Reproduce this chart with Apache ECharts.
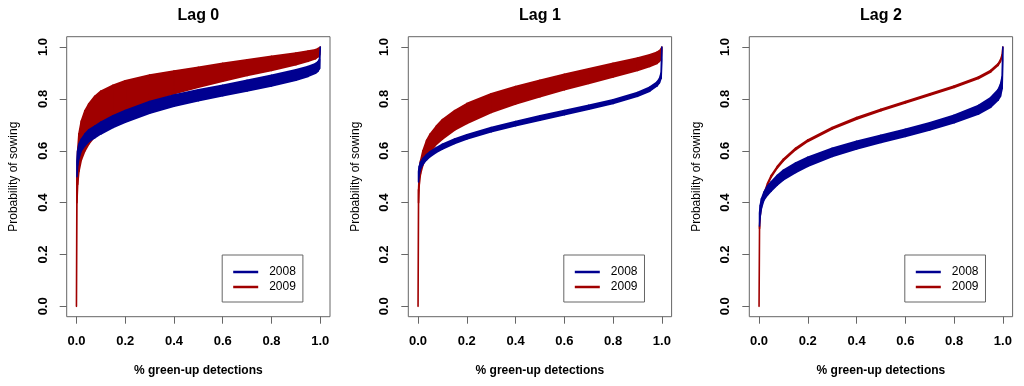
<!DOCTYPE html>
<html><head><meta charset="utf-8">
<script src="https://cdn.jsdelivr.net/npm/echarts@6/dist/echarts.min.js"></script>
<style>html,body{margin:0;padding:0;background:#fff}#c{width:1024px;height:386px}</style>
</head><body><div id="c"></div>
<script>
// shared x positions (% green-up detections)
const xs = [0, 0.002, 0.005, 0.01, 0.02, 0.035, 0.05, 0.075, 0.1, 0.15, 0.2, 0.3, 0.4, 0.5, 0.6, 0.7, 0.8, 0.9, 0.95, 0.98, 0.99, 0.997, 1.0];
const ticks = [0, 0.2, 0.4, 0.6, 0.8, 1.0];
const panelTitles = ['Lag 0', 'Lag 1', 'Lag 2'];
const years = ['2008', '2009'];

// Lag 0
const lag0_2009_hi = [0, 0.50, 0.60, 0.665, 0.715, 0.755, 0.78, 0.81, 0.83, 0.853, 0.87, 0.892, 0.908, 0.922, 0.937, 0.951, 0.964, 0.977, 0.985, 0.99, 0.994, 0.998, 1.0];
const lag0_2009_lo = [0, 0.40, 0.47, 0.52, 0.565, 0.60, 0.625, 0.655, 0.68, 0.715, 0.745, 0.79, 0.82, 0.845, 0.868, 0.89, 0.91, 0.932, 0.945, 0.955, 0.962, 0.97, 1.0];
const lag0_2008_hi = [null, 0.56, 0.60, 0.625, 0.645, 0.665, 0.68, 0.695, 0.71, 0.735, 0.755, 0.79, 0.815, 0.835, 0.853, 0.872, 0.891, 0.912, 0.925, 0.936, 0.943, 0.953, 1.0];
const lag0_2008_lo = [null, 0.50, 0.545, 0.57, 0.60, 0.62, 0.635, 0.65, 0.665, 0.69, 0.71, 0.745, 0.772, 0.793, 0.812, 0.831, 0.85, 0.872, 0.887, 0.899, 0.906, 0.917, 1.0];
// Lag 1
const lag1_2009_hi = [0, 0.45, 0.52, 0.56, 0.60, 0.64, 0.665, 0.695, 0.72, 0.755, 0.782, 0.82, 0.848, 0.872, 0.895, 0.916, 0.937, 0.958, 0.97, 0.98, 0.986, 0.993, 1.0];
const lag1_2009_lo = [0, 0.40, 0.47, 0.51, 0.545, 0.575, 0.595, 0.625, 0.645, 0.68, 0.705, 0.748, 0.78, 0.808, 0.835, 0.86, 0.885, 0.91, 0.925, 0.937, 0.945, 0.955, 0.99];
const lag1_2008_hi = [null, 0.52, 0.54, 0.555, 0.57, 0.585, 0.597, 0.612, 0.625, 0.645, 0.662, 0.69, 0.713, 0.735, 0.755, 0.775, 0.797, 0.825, 0.845, 0.865, 0.878, 0.90, 1.0];
const lag1_2008_lo = [null, 0.48, 0.51, 0.53, 0.548, 0.565, 0.578, 0.594, 0.607, 0.628, 0.645, 0.673, 0.697, 0.718, 0.739, 0.76, 0.782, 0.81, 0.83, 0.85, 0.862, 0.88, 0.95];
// Lag 2
const lag2_2009_hi = [0, 0.31, 0.36, 0.395, 0.435, 0.475, 0.505, 0.54, 0.568, 0.61, 0.642, 0.69, 0.728, 0.76, 0.79, 0.82, 0.85, 0.885, 0.91, 0.935, 0.95, 0.97, 1.0];
const lag2_2009_lo = [0, 0.30, 0.354, 0.389, 0.429, 0.469, 0.499, 0.534, 0.562, 0.604, 0.636, 0.684, 0.722, 0.754, 0.784, 0.814, 0.844, 0.879, 0.904, 0.929, 0.944, 0.964, 1.0];
const lag2_2008_hi = [null, 0.36, 0.39, 0.415, 0.44, 0.465, 0.48, 0.505, 0.525, 0.553, 0.575, 0.61, 0.637, 0.66, 0.683, 0.708, 0.737, 0.775, 0.805, 0.835, 0.855, 0.885, 1.0];
const lag2_2008_lo = [null, 0.31, 0.35, 0.38, 0.41, 0.43, 0.445, 0.468, 0.488, 0.516, 0.54, 0.578, 0.607, 0.632, 0.655, 0.68, 0.708, 0.742, 0.768, 0.795, 0.81, 0.84, 0.95];

const panels = [
  {b08: [lag0_2008_lo, lag0_2008_hi], b09: [lag0_2009_lo, lag0_2009_hi]},
  {b08: [lag1_2008_lo, lag1_2008_hi], b09: [lag1_2009_lo, lag1_2009_hi]},
  {b08: [lag2_2008_lo, lag2_2008_hi], b09: [lag2_2009_lo, lag2_2009_hi]}
];
const COL = {'2008': '#000090', '2009': '#A00000'};
const lefts = [66.7, 408.3, 749.3];
const GT = 36.7, GW = 263.3, GH = 280;
const FONT = '"Liberation Sans", Arial, sans-serif';

const grid = [], xAxis = [], yAxis = [], title = [], legend = [], series = [];
lefts.forEach((L, p) => {
  grid.push({left: L, top: GT, width: GW, height: GH, show: true, borderColor: '#666', borderWidth: 1, backgroundColor: 'transparent'});
  xAxis.push({type: 'value', gridIndex: p, min: -0.04, max: 1.04,
    name: '% green-up detections', nameLocation: 'middle', nameGap: 48,
    nameTextStyle: {fontFamily: FONT, fontSize: 12, fontWeight: 'bold', color: '#000'},
    axisLine: {show: false, onZero: false}, splitLine: {show: false},
    axisTick: {show: true, length: 7, customValues: ticks, lineStyle: {color: '#666'}},
    axisLabel: {customValues: ticks, margin: 18, fontFamily: FONT, fontSize: 13, fontWeight: 'bold', color: '#000', formatter: v => v.toFixed(1)}});
  yAxis.push({type: 'value', gridIndex: p, min: -0.04, max: 1.04,
    name: 'Probability of sowing', nameLocation: 'middle', nameGap: 47,
    nameTextStyle: {fontFamily: FONT, fontSize: 12, color: '#000'},
    axisLine: {show: false, onZero: false}, splitLine: {show: false},
    axisTick: {show: true, length: 7, customValues: ticks, lineStyle: {color: '#666'}},
    axisLabel: {customValues: ticks, rotate: 90, margin: 17, fontFamily: FONT, fontSize: 13, fontWeight: 'bold', color: '#000', formatter: v => v.toFixed(1)}});
  title.push({text: panelTitles[p], left: L + GW / 2, textAlign: 'center', top: 8, padding: 0,
    textStyle: {fontFamily: FONT, fontSize: 16, fontWeight: 'bold', color: '#000'}});
  legend.push({data: years, orient: 'vertical', left: L + 155.5, top: 255,
    borderColor: '#666', borderWidth: 1, padding: [10, 7, 8, 11], itemGap: 1,
    icon: 'rect', itemWidth: 25, itemHeight: 2.5, selectedMode: false,
    textStyle: {fontFamily: FONT, fontSize: 12, color: '#000', padding: [0, 0, 0, 6], lineHeight: 14}});

  const addBand = (year, lo, hi, order) => {
    // each data row = one segment of the band: [x0, lo0, hi0, x1, lo1, hi1]
    const rows = [];
    const pts = [];
    xs.forEach((x, i) => { if (lo[i] != null && hi[i] != null) pts.push([x, lo[i], hi[i]]); });
    for (let i = 0; i < pts.length - 1; i++) rows.push(pts[i].concat(pts[i + 1]));
    series.push({type: 'custom', name: year, xAxisIndex: p, yAxisIndex: p, z: 2 + order,
      silent: true, animation: false, color: COL[year], itemStyle: {color: COL[year]},
      clip: false,
      encode: {x: [0, 3], y: [1, 2, 4, 5]},
      data: rows,
      renderItem: (params, api) => {
        const a = api.coord([api.value(0), api.value(1)]);
        const b = api.coord([api.value(3), api.value(4)]);
        const c = api.coord([api.value(3), api.value(5)]);
        const d = api.coord([api.value(0), api.value(2)]);
        return {type: 'polygon', shape: {points: [a, b, c, d]},
          style: {fill: COL[year], stroke: COL[year], lineWidth: 1.6, lineJoin: 'round'}};
      }});
  };
  addBand('2009', panels[p].b09[0], panels[p].b09[1], 0);
  addBand('2008', panels[p].b08[0], panels[p].b08[1], 1);
});

const chart = echarts.init(document.getElementById('c'), null, {renderer: 'canvas'});
chart.setOption({backgroundColor: '#fff', animation: false, grid, xAxis, yAxis, title, legend, series});
</script></body></html>
